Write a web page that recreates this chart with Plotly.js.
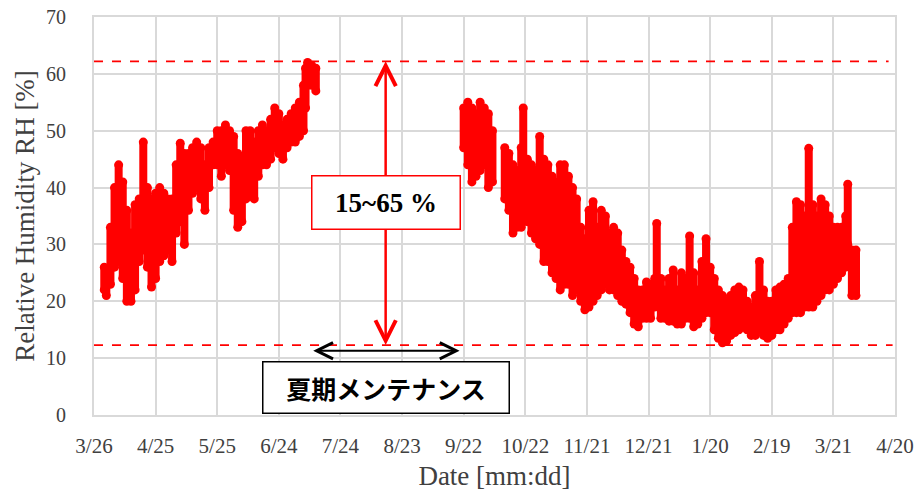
<!DOCTYPE html>
<html>
<head>
<meta charset="utf-8">
<script src="https://cdn.plot.ly/plotly-3.0.1.min.js"></script>
<style>html,body{margin:0;padding:0;background:#fff;}#chart{width:915px;height:491px;}</style>
</head>
<body>
<div id="chart"></div>
<script>
// Start date of the axis (day offset 0)
const startDate = [2018, 2, 26];
// Day offsets from 3/26 and daily min / max relative humidity [%]
const dayOffset = [5,6,8,10,12,14,16,18,20,22,24,26,28,30,32,34,36,38,40,42,44,46,48,50,52,54,56,58,60,62,64,66,68,70,72,74,76,78,80,82,84,86,88,90,92,94,96,98,100,102,103,104,106,108,
  180,182,184,186,188,190,192,194,
  200,202,204,206,208,209,211,213,215,217,219,221,223,225,227,229,231,233,235,237,239,241,243,245,247,249,251,253,255,257,259,261,263,265,267,269,271,273,274,276,278,280,282,284,286,288,290,292,294,296,298,300,302,304,306,308,310,312,314,316,318,320,322,324,326,328,330,332,334,336,338,340,342,344,346,348,350,352,354,356,358,360,362,364,366,367,369,371];
const rhMin = [22,21,23,26,27,24,20,20,22,27,29,26,22.5,24,27,28,29,27,32,34,30,36,39,40,38,36,40,44,44,42,44,43,36,33,34,38,39,38,42,44,44,45,47,46,45,47,48,48,49,50,54,58,58,57,
  47,44,41,42,43,44,40,41,
  38,36,32,33,33,34,34,32,31,30,27,27,25,24,22,23,23,21,22,20,18.5,19,20,21,22,23,22,22,21,20,19.5,18,16,15.5,17,17,17,19,20,17,17,16.5,16.5,16,16,17,17,15.5,16,17,18,18,15,13.5,12.7,13,14,14.5,15,16,15,14,14,15,14,13.5,14,15,15,16,17,18,18,18,19,19,19,20,21,22,22,23,24,25,26,30,21,21];
const rhMax = [26,25,33,40,44,41,36,32,37,38,48,40,38,39,40,39,38,38,44,47.8,46,46,47,48,47,44,47,48,50,50,51,50,49,46,45,50,50,48,50,51,50,52,54,53,51,52,53,54,55,58,61,62,61.5,61,
  54,55,54,53,55,54,53,50,
  47,46,44,43,47,54,45,44,43,49,45,44,42,41,44,44,42,40,38,33,31,36,37.5,33,36,35,32,33,32,29,27,26,24,22,22,23.4,23,24,33.7,24,22,24,25.5,22,25,24,31.5,25,22,27,31,26,24,22,21,20,21,22,22.5,22,20,19,21,27,22,20,20,22,22.5,23,24,33,37.5,37,35,46.9,37,35,38,37,35,33,33,33,35,40.6,29,29];
// Reference limits and annotation labels
const rhUpperLimit = 62.2;
const rhLowerLimit = 12.3;
const rangeLabel = '15~65 %';
const maintenanceLabel = '夏期メンテナンス';
const maintenanceStartDay = 106;
const maintenanceEndDay = 178;
const rangeArrowDay = 142;

const DAY = 86400000;
const t0 = Date.UTC(startDate[0], startDate[1], startDate[2]);
function dateOf(d) { return new Date(t0 + d * DAY).toISOString().slice(0, 19).replace('T', ' '); }

const xs = [], ys = [];
for (let i = 0; i < dayOffset.length; i++) {
  const dt = dateOf(dayOffset[i]);
  xs.push(dt, dt, null);
  ys.push(rhMin[i], rhMax[i], null);
}

const trace = {
  x: xs, y: ys, type: 'scatter', mode: 'lines+markers',
  line: {color: '#ff0000', width: 8},
  marker: {color: '#ff0000', size: 9},
  connectgaps: false, hoverinfo: 'skip', showlegend: false
};

const serif = 'Liberation Serif, Times New Roman, serif';
const layout = {
  width: 915, height: 491,
  margin: {l: 94, r: 20, t: 17, b: 76},
  paper_bgcolor: '#fff', plot_bgcolor: '#fff',
  showlegend: false,
  xaxis: {
    type: 'date',
    range: [dateOf(0), dateOf(390)],
    tick0: dateOf(0), dtick: 30 * DAY, tickformat: '%-m/%-d',
    showgrid: true, gridcolor: '#d9d9d9', gridwidth: 2,
    showline: true, mirror: true, linecolor: '#d9d9d9', linewidth: 2,
    zeroline: false, ticks: '', ticklabelstandoff: 11,
    tickfont: {family: serif, size: 21, color: '#404040'},
    title: {text: 'Date [mm:dd]', font: {family: serif, size: 27, color: '#404040'}, standoff: 20}
  },
  yaxis: {
    range: [0, 70], dtick: 10, tick0: 0,
    showgrid: true, gridcolor: '#d9d9d9', gridwidth: 2,
    showline: true, mirror: true, linecolor: '#d9d9d9', linewidth: 2,
    zeroline: false, ticks: '', ticklabelstandoff: 22,
    tickfont: {family: serif, size: 20, color: '#404040'},
    title: {text: 'Relative Humidity RH [%]', font: {family: serif, size: 27, color: '#404040'}, standoff: 4}
  },
  shapes: [
    {type: 'line', xref: 'paper', yref: 'y', x0: 0, x1: 0.992, y0: rhUpperLimit, y1: rhUpperLimit,
     line: {color: '#ff0000', width: 1.8, dash: 'dash'}},
    {type: 'line', xref: 'paper', yref: 'y', x0: 0, x1: 0.997, y0: rhLowerLimit, y1: rhLowerLimit,
     line: {color: '#ff0000', width: 1.8, dash: 'dash'}}
  ],
  annotations: [
    {x: dateOf(rangeArrowDay), y: rhUpperLimit, ax: dateOf(rangeArrowDay), ay: 37.4,
     xref: 'x', yref: 'y', axref: 'x', ayref: 'y', text: '', showarrow: true,
     arrowhead: 5, arrowsize: 1.6, arrowwidth: 2.5, arrowcolor: '#ff0000'},
    {x: dateOf(rangeArrowDay), y: rhLowerLimit, ax: dateOf(rangeArrowDay), ay: 37.4,
     xref: 'x', yref: 'y', axref: 'x', ayref: 'y', text: '', showarrow: true,
     arrowhead: 5, arrowsize: 1.6, arrowwidth: 2.5, arrowcolor: '#ff0000'},
    {x: dateOf(maintenanceEndDay), y: 11.3, ax: dateOf(maintenanceStartDay), ay: 11.3,
     xref: 'x', yref: 'y', axref: 'x', ayref: 'y', text: '', showarrow: true,
     arrowside: 'end+start', arrowhead: 5, startarrowhead: 5, arrowsize: 1.6, startarrowsize: 1.6,
     arrowwidth: 2, arrowcolor: '#000000'},
    {x: dateOf(rangeArrowDay), y: 37.4, xref: 'x', yref: 'y', text: '<b>' + rangeLabel + '</b>',
     showarrow: false, bgcolor: '#ffffff', bordercolor: '#ff0000', borderwidth: 1.5, borderpad: 0,
     width: 147, height: 52, font: {family: serif, size: 27, color: '#000000'}},
    {x: dateOf(rangeArrowDay), y: 4.8, xref: 'x', yref: 'y', text: '<b>' + maintenanceLabel + '</b>',
     showarrow: false, bgcolor: '#ffffff', bordercolor: '#000000', borderwidth: 1.5, borderpad: 0,
     width: 245, height: 50, font: {family: 'Noto Sans CJK JP, sans-serif', size: 25, color: '#000000'}}
  ]
};

Plotly.newPlot('chart', [trace], layout, {staticPlot: true, displayModeBar: false});
</script>
</body>
</html>
